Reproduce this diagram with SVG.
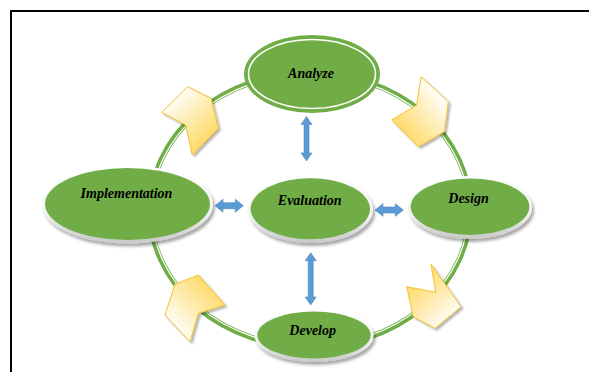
<svg xmlns="http://www.w3.org/2000/svg" width="589" height="372" viewBox="0 0 589 372">
  <defs>
    <filter id="softShadow" x="-20%" y="-20%" width="140%" height="150%">
      <feGaussianBlur in="SourceAlpha" stdDeviation="1.6"/>
      <feOffset dx="2" dy="3" result="blur"/>
      <feComponentTransfer><feFuncA type="linear" slope="0.35"/></feComponentTransfer>
      <feMerge><feMergeNode/><feMergeNode in="SourceGraphic"/></feMerge>
    </filter>
    <filter id="chevShadow" x="-20%" y="-20%" width="150%" height="150%">
      <feGaussianBlur in="SourceAlpha" stdDeviation="1"/>
      <feOffset dx="2" dy="2"/>
      <feComponentTransfer><feFuncA type="linear" slope="0.3"/></feComponentTransfer>
      <feMerge><feMergeNode/><feMergeNode in="SourceGraphic"/></feMerge>
    </filter>
    <linearGradient id="rimGrad" x1="0" y1="0" x2="0" y2="1">
      <stop offset="0" stop-color="#ffffff"/>
      <stop offset="0.6" stop-color="#f2f2f2"/>
      <stop offset="1" stop-color="#c8c8c8"/>
    </linearGradient>
    <linearGradient id="chevTL" gradientUnits="userSpaceOnUse" x1="172" y1="95" x2="212" y2="138">
      <stop offset="0" stop-color="#ffffff"/>
      <stop offset="1" stop-color="#ffd966"/>
    </linearGradient>
    <linearGradient id="chevTR" gradientUnits="userSpaceOnUse" x1="446" y1="98" x2="402" y2="134">
      <stop offset="0" stop-color="#ffffff"/>
      <stop offset="1" stop-color="#ffd966"/>
    </linearGradient>
    <linearGradient id="chevBR" gradientUnits="userSpaceOnUse" x1="452" y1="322" x2="414" y2="280">
      <stop offset="0" stop-color="#ffffff"/>
      <stop offset="1" stop-color="#ffd966"/>
    </linearGradient>
    <linearGradient id="chevBL" gradientUnits="userSpaceOnUse" x1="172" y1="330" x2="214" y2="286">
      <stop offset="0" stop-color="#ffffff"/>
      <stop offset="1" stop-color="#ffd966"/>
    </linearGradient>
    <style>
      .ring { fill: none; stroke: #70ad47; stroke-width: 5.5; }
      .ringLine { fill: none; stroke: #ffffff; stroke-width: 1.2; }
      .rim { fill: url(#rimGrad); filter: url(#softShadow); }
      .body { fill: #70ad47; }
      .label { font-family: "Liberation Serif", "Times New Roman", serif; font-size: 14px; font-weight: bold; font-style: italic; fill: #000000; text-anchor: middle; }
      .chev { stroke: #f1c232; stroke-width: 1; stroke-linejoin: round; filter: url(#chevShadow); }
      .dbl { fill: #5b9bd5; stroke: #4a86c0; stroke-width: 0.6; }
      .frame { fill: none; stroke: #000000; stroke-width: 2; }
    </style>
  </defs>

  <rect width="589" height="372" fill="#ffffff"/>
  <path class="frame" d="M11 372 V11 H589"/>

  <!-- cycle ring -->
  <g id="cycle-ring">
    <ellipse class="ring" cx="310" cy="210" rx="160" ry="137"/>
    <ellipse class="ringLine" cx="310" cy="210" rx="158.6" ry="135.6"/>
  </g>

  <!-- flow chevrons along the ring -->
  <g id="connectors">
    <polygon class="chev" fill="url(#chevTL)" points="161.7,112.3 187.7,86.7 211,98.3 218.3,128.3 192.3,155 185.7,125"/>
    <polygon class="chev" fill="url(#chevTR)" points="421,76.7 448.3,101.7 444.3,131.7 418.3,146.7 391.7,120 416.7,105"/>
    <polygon class="chev" fill="url(#chevBR)" points="431,264.3 461,306.7 435,328.3 413.3,316.7 406.7,286.7 435.7,292.3"/>
    <polygon class="chev" fill="url(#chevBL)" points="175,284 198.3,275 225,305 198.3,313.3 190,341.7 165,315"/>

    <!-- two-way links to Evaluation -->
    <polygon class="dbl" points="306.5,116.5 312,124.5 309,124.5 309,153 312,153 306.5,161 301,153 304,153 304,124.5 301,124.5"/>
    <polygon class="dbl" points="310.7,252.7 316.2,260.7 313.2,260.7 313.2,297 316.2,297 310.7,305 305.2,297 308.2,297 308.2,260.7 305.2,260.7"/>
    <polygon class="dbl" points="215,205.7 223,199.2 223,202.7 235.3,202.7 235.3,199.2 243.3,205.7 235.3,212.2 235.3,208.7 223,208.7 223,212.2"/>
    <polygon class="dbl" points="375,210 383,203.7 383,207 395.3,207 395.3,203.7 403.3,210 395.3,216.3 395.3,213 383,213 383,216.3"/>
  </g>

  <!-- Analyze -->
  <g id="node-analyze">
    <ellipse class="body" cx="312" cy="74" rx="68" ry="39"/>
    <ellipse fill="none" stroke="#ffffff" stroke-width="1.6" cx="312" cy="74" rx="63.5" ry="34.5"/>
    <text class="label" x="311" y="78">Analyze</text>
  </g>

  <!-- Implementation -->
  <g id="node-implementation">
    <ellipse class="rim" cx="127.5" cy="204.5" rx="85.5" ry="39"/>
    <ellipse class="body" cx="127.5" cy="204" rx="82.5" ry="36"/>
    <text class="label" x="126.5" y="198">Implementation</text>
  </g>

  <!-- Evaluation -->
  <g id="node-evaluation">
    <ellipse class="rim" cx="310.5" cy="209.5" rx="62.5" ry="33.5"/>
    <ellipse class="body" cx="310.3" cy="208.8" rx="59.7" ry="30.5"/>
    <text class="label" x="309.7" y="205">Evaluation</text>
  </g>

  <!-- Design -->
  <g id="node-design">
    <ellipse class="rim" cx="470" cy="207.5" rx="62" ry="31.5"/>
    <ellipse class="body" cx="470" cy="206.7" rx="59.3" ry="28.3"/>
    <text class="label" x="468.5" y="203">Design</text>
  </g>

  <!-- Develop -->
  <g id="node-develop">
    <ellipse class="rim" cx="314" cy="335.5" rx="59.5" ry="26.5"/>
    <ellipse class="body" cx="314" cy="335" rx="56.7" ry="23.5"/>
    <text class="label" x="312.7" y="335">Develop</text>
  </g>
</svg>
